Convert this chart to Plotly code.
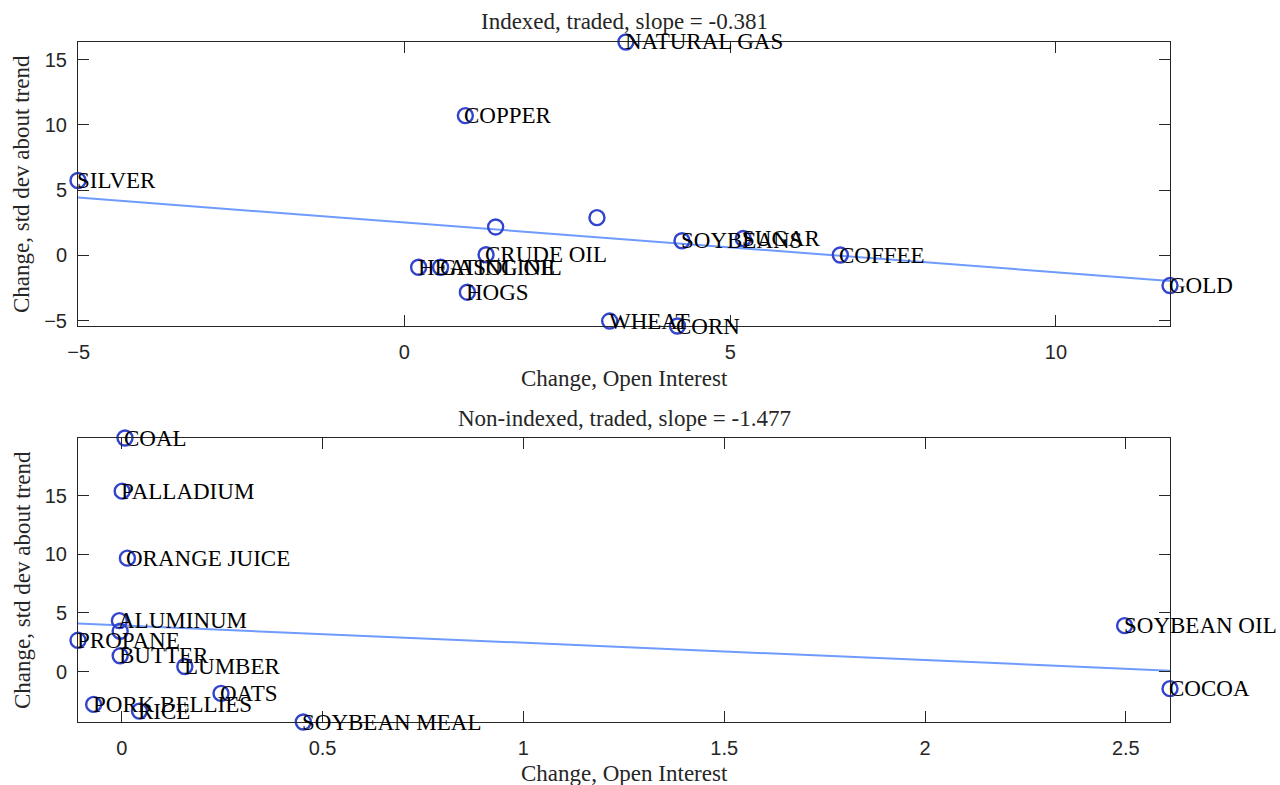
import plotly.graph_objects as go

# Indexed commodities: change in open interest vs change in std dev about trend
idx_names = ["NATURAL GAS", "COPPER", "SILVER", "", "", "SOYBEANS", "SUGAR", "COFFEE",
             "GOLD", "CRUDE OIL", "HEATING OIL", "GASOLINE", "HOGS", "WHEAT", "CORN"]
idx_x = [3.40, 0.935, -5.01, 1.40, 2.955, 4.26, 5.20, 6.69,
         11.75, 1.253, 0.218, 0.555, 0.966, 3.15, 4.19]
idx_y = [16.35, 10.71, 5.74, 2.18, 2.89, 1.12, 1.29, 0.03,
         -2.31, 0.05, -0.91, -0.91, -2.82, -5.03, -5.41]
idx_slope = -0.381
idx_intercept = 2.52

# Non-indexed commodities
non_names = ["COAL", "PALLADIUM", "ORANGE JUICE", "ALUMINUM", "", "PROPANE", "BUTTER",
             "LUMBER", "OATS", "PORK BELLIES", "RICE", "SOYBEAN MEAL", "SOYBEAN OIL", "COCOA"]
non_x = [0.008, 0.001, 0.014, -0.006, -0.004, -0.109, -0.004,
         0.157, 0.247, -0.07, 0.044, 0.452, 2.497, 2.610]
non_y = [19.9, 15.37, 9.66, 4.34, 3.43, 2.66, 1.34,
         0.43, -1.86, -2.8, -3.37, -4.3, 3.91, -1.46]
non_slope = -1.477
non_intercept = 3.93

idx_xticks = [-5, 0, 5, 10]
idx_yticks = [-5, 0, 5, 10, 15]
non_xticks = [0, 0.5, 1, 1.5, 2, 2.5]
non_yticks = [0, 5, 10, 15]

W, H = 1280, 785
AX_L, AX_R = 78, 1170
TOP_T, TOP_B = 42, 326
BOT_T, BOT_B = 438, 722

MARKER = "#3344cc"
FIT = "#6f9bff"
AXC = "#262626"
SERIF = "Liberation Serif"
SANS = "Liberation Sans"
TXT = 23

fig = go.Figure()


def panel(names, xs, ys, slope, intercept, xref, yref):
    x0, x1 = min(xs), max(xs)
    fig.add_trace(go.Scatter(
        x=[x0, x1], y=[intercept + slope * x0, intercept + slope * x1],
        mode="lines", line=dict(color=FIT, width=2),
        xaxis=xref, yaxis=yref, showlegend=False, hoverinfo="skip", cliponaxis=False))
    fig.add_trace(go.Scatter(
        x=xs, y=ys, mode="markers",
        marker=dict(symbol="circle-open", size=15, color=MARKER, line=dict(width=2.4, color=MARKER)),
        xaxis=xref, yaxis=yref, showlegend=False, cliponaxis=False))
    for n, x, y in zip(names, xs, ys):
        if not n:
            continue
        fig.add_annotation(x=x, y=y, xref=xref, yref=yref, text=n, showarrow=False,
                           xanchor="left", yanchor="middle", xshift=-3,
                           font=dict(family=SERIF, size=TXT, color="black"))


panel(idx_names, idx_x, idx_y, idx_slope, idx_intercept, "x", "y")
panel(non_names, non_x, non_y, non_slope, non_intercept, "x2", "y2")


def axis_style(**kw):
    d = dict(showgrid=False, zeroline=False, showline=True, linecolor=AXC, linewidth=1,
             mirror="ticks", ticks="inside", ticklen=11, tickcolor=AXC, tickwidth=1,
             automargin=False, tickfont=dict(family=SANS, size=20, color=AXC))
    d.update(kw)
    return d


dom_x = [AX_L / W, AX_R / W]
fig.update_layout(
    width=W, height=H, margin=dict(l=0, r=0, t=0, b=0),
    paper_bgcolor="white", plot_bgcolor="white",
    xaxis=axis_style(domain=dom_x, range=[min(idx_x), max(idx_x)], tickvals=idx_xticks,
                     anchor="y", ticklabelstandoff=8),
    yaxis=axis_style(domain=[1 - TOP_B / H, 1 - TOP_T / H], range=[min(idx_y), max(idx_y)],
                     tickvals=idx_yticks, anchor="x", ticklabelstandoff=6),
    xaxis2=axis_style(domain=dom_x, range=[min(non_x), max(non_x)], tickvals=non_xticks,
                      anchor="y2", ticklabelstandoff=8),
    yaxis2=axis_style(domain=[1 - BOT_B / H, 1 - BOT_T / H], range=[min(non_y), max(non_y)],
                      tickvals=non_yticks, anchor="x2", ticklabelstandoff=6),
)

cx = (AX_L + AX_R) / 2 / W


def label(text, x, y, angle=0):
    fig.add_annotation(x=x, y=1 - y / H, xref="paper", yref="paper", text=text,
                       showarrow=False, xanchor="center", yanchor="middle", textangle=angle,
                       font=dict(family=SERIF, size=TXT, color=AXC))


label("Indexed, traded, slope = %.3f" % idx_slope, cx, 22)
label("Change, Open Interest", cx, 378)
label("Change, std dev about trend", 22 / W, (TOP_T + TOP_B) / 2, -90)
label("Non-indexed, traded, slope = %.3f" % non_slope, cx, 418)
label("Change, Open Interest", cx, 773)
label("Change, std dev about trend", 22 / W, (BOT_T + BOT_B) / 2, -90)

fig.write_html("out.html")
